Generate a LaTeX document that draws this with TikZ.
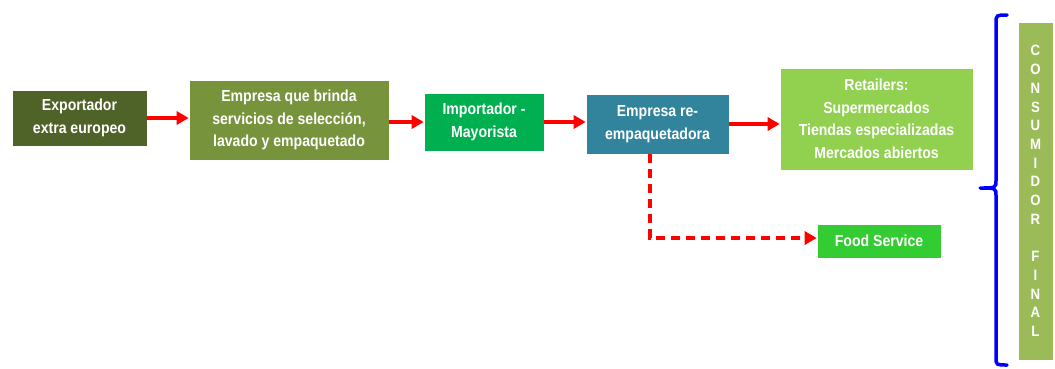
\documentclass[tikz,border=0pt]{standalone}
\usepackage{fontspec}
\setmainfont{Liberation Sans}[FakeStretch=0.88]
\usetikzlibrary{arrows.meta}
\definecolor{cdark}{HTML}{4F6228}
\definecolor{colive}{HTML}{77933C}
\definecolor{cgreen}{HTML}{00B050}
\definecolor{cteal}{HTML}{31849B}
\definecolor{clime}{HTML}{92D050}
\definecolor{cfood}{HTML}{33CC33}
\definecolor{cfinal}{HTML}{9BBB59}
\tikzset{
  box/.style={inner sep=0pt, align=center, text=white, font=\fontsize{16}{22.5}\selectfont\bfseries, draw=white, line width=0.6pt},
  flow/.style={draw=red, line width=3.2pt, -{Triangle[length=12pt,width=13pt]}},
  dflow/.style={flow, dash pattern=on 9pt off 6pt},
}
\begin{document}
\begin{tikzpicture}[x=1pt,y=-1pt]
\useasboundingbox (0,0) rectangle (1055,368);
\node[box, fill=cdark, minimum width=135pt, minimum height=56pt] (exp) at (79.5,118) {Exportador\\extra europeo};
\node[box, fill=colive, minimum width=200pt, minimum height=80pt] (emp) at (289,120) {Empresa que brinda\\servicios de selección,\\lavado y empaquetado};
\node[box, fill=cgreen, minimum width=120pt, minimum height=58pt] (imp) at (484,122) {Importador -\\Mayorista};
\node[box, fill=cteal, minimum width=143pt, minimum height=60pt] (rep) at (657.5,124) {Empresa re-\\empaquetadora};
\node[box, fill=clime, minimum width=193pt, minimum height=102pt] (ret) at (876.5,119) {Retailers:\\Supermercados\\Tiendas especializadas\\Mercados abiertos};
\node[box, fill=cfood, minimum width=124pt, minimum height=34pt] (food) at (879,241) {Food Service};
\node[box, fill=cfinal, minimum width=35pt, minimum height=338pt, font=\fontsize{15}{18.7}\selectfont\bfseries] (fin) at (1035.5,191) {C\\O\\N\\S\\U\\M\\I\\D\\O\\R\\[18.7pt]F\\I\\N\\A\\L};
\draw[flow] (exp.east) -- (emp.west |- exp.east);
\draw[flow] (emp.east |- imp.west) -- (imp.west);
\draw[flow] (imp.east) -- (rep.west |- imp.east);
\draw[flow] (rep.east) -- (ret.west |- rep.east);
\coordinate (bend) at (650,238);
\draw[dflow] (rep.south -| bend) -- (bend) -- (food.west |- bend);
\draw[blue, line width=3.5pt, line cap=round]
  (1007,15) .. controls (996,15) .. (996,24) -- (996,180) .. controls (996,188) .. (980,188)
  (1007,365) .. controls (996,365) .. (996,357) -- (996,196) .. controls (996,188) .. (980,188);
\end{tikzpicture}
\end{document}
